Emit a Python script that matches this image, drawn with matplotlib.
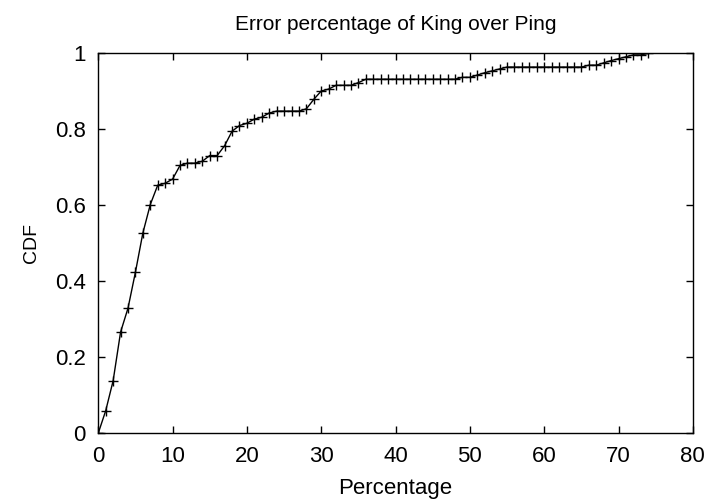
import matplotlib
matplotlib.use("Agg")
import matplotlib.pyplot as plt

# error percentage (x) and cumulative fraction (y)
pct = list(range(0, 75))
cdf = [
    0.000, 0.059, 0.138, 0.266, 0.329, 0.424, 0.527, 0.602, 0.653, 0.658,
    0.669, 0.705, 0.711, 0.711, 0.716, 0.731, 0.731, 0.757, 0.795, 0.810,
    0.816, 0.827, 0.832, 0.843, 0.848, 0.848, 0.848, 0.848, 0.854, 0.879,
    0.901, 0.906, 0.916, 0.916, 0.916, 0.923, 0.932, 0.932, 0.932, 0.932,
    0.932, 0.932, 0.932, 0.932, 0.932, 0.932, 0.932, 0.932, 0.932, 0.937,
    0.937, 0.943, 0.949, 0.954, 0.959, 0.964, 0.964, 0.964, 0.964, 0.964,
    0.964, 0.964, 0.964, 0.964, 0.964, 0.964, 0.969, 0.969, 0.975, 0.981,
    0.986, 0.991, 0.996, 0.996, 1.000,
]
xticks = [0, 10, 20, 30, 40, 50, 60, 70, 80]
yticks = [0, 0.2, 0.4, 0.6, 0.8, 1]
ytick_labels = ["0", "0.2", "0.4", "0.6", "0.8", "1"]

plt.rcParams["font.family"] = ["Liberation Sans", "DejaVu Sans"]

fig = plt.figure(figsize=(7.07, 4.99), dpi=100)
ax = fig.add_axes([0.139, 0.132, 0.841, 0.761])

ax.plot(pct, cdf, color="black", linewidth=1.0, marker="+",
        markersize=6.5, markeredgewidth=1.0)

ax.set_xlim(0, 80)
ax.set_ylim(0, 1)
ax.set_xticks(xticks)
ax.set_xticklabels([str(t) for t in xticks])
ax.set_yticks(yticks)
ax.set_yticklabels(ytick_labels)
ax.tick_params(direction="in", length=5, width=1, top=True, right=True,
               labelsize=16)
ax.tick_params(axis="x", pad=9)
ax.tick_params(axis="y", pad=9)
for s in ax.spines.values():
    s.set_linewidth(1.0)

ax.set_title("Error percentage of King over Ping", fontsize=15, pad=17)
ax.set_xlabel("Percentage", fontsize=16, labelpad=8)
ax.set_ylabel("CDF", fontsize=14, labelpad=11)

fig.savefig("out.png", dpi=100)
